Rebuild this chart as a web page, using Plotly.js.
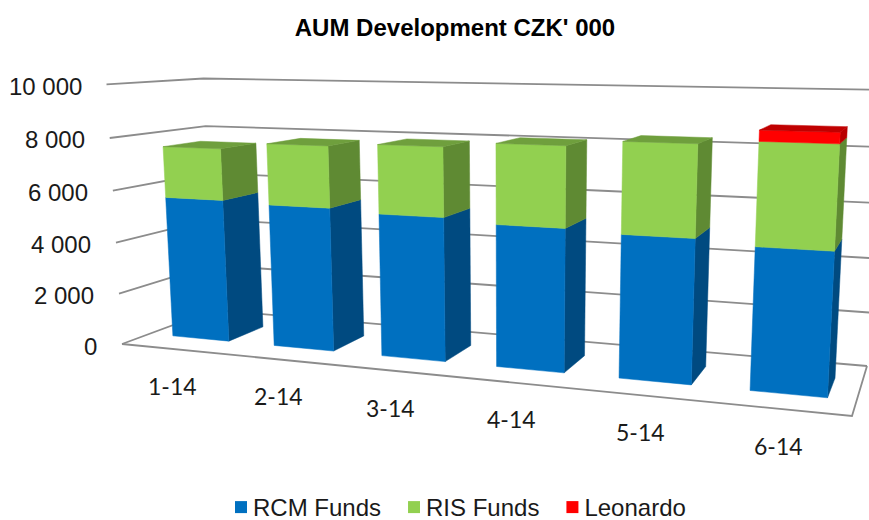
<!DOCTYPE html>
<html>
<head>
<meta charset="utf-8">
<script src="https://cdn.plot.ly/plotly-3.0.1.min.js"></script>
<style>html,body{margin:0;padding:0;background:#fff}</style>
</head>
<body>
<div id="chart" style="width:869px;height:520px"></div>
<script>
var categories = ['1-14','2-14','3-14','4-14','5-14','6-14'];
var rcmFunds = [5570,5490,5370,5220,5120,4960];
var risFunds = [1985,2320,2555,2890,3200,3500];
var leonardo = [0,0,0,0,0,370];
var valueTicks = [0,2000,4000,6000,8000,10000];
var tickLabels = ['0','2 000','4 000','6 000','8 000','10 000'];

var colors = {
  rcm: {front:'#0070C0', side:'#004A80', top:'#005A9A'},
  ris: {front:'#92D050', side:'#5F8A33', top:'#6F9F3D'},
  leo: {front:'#FF0000', side:'#B80000', top:'#C00000'}
};
var gridColor = '#8C8C8C';

// box corners of the chart's 3D scene as seen in the picture
var corner = {A:[122,344], B:[214,310], C:[867,366], D:[852,416], E:[108,85], F:[202,77], G:[882,91]};
var inset = 0.22, xShift = 0.015, depthFront = 0.28, depthBack = 0.68, vMax = 10000, nCat = categories.length;

function solve(M, b){
  var n=b.length, a=M.map(function(r,i){return r.concat([b[i]]);});
  for(var i=0;i<n;i++){
    var p=i; for(var k=i+1;k<n;k++) if(Math.abs(a[k][i])>Math.abs(a[p][i])) p=k;
    var t=a[i];a[i]=a[p];a[p]=t;
    for(var k=0;k<n;k++){ if(k===i) continue; var f=a[k][i]/a[i][i];
      for(var j=i;j<=n;j++) a[k][j]-=f*a[i][j]; }
  }
  return a.map(function(r,i){return r[n]/r[i];});
}
// floor homography
var H = (function(){
  var src=[[0,0,corner.A],[0,1,corner.B],[1,1,corner.C],[1,0,corner.D]], M=[], b=[];
  src.forEach(function(s){var u=s[0],d=s[1],X=s[2][0],Y=s[2][1];
    M.push([u,d,1,0,0,0,-u*X,-d*X]); b.push(X);
    M.push([0,0,0,u,d,1,-u*Y,-d*Y]); b.push(Y);});
  return solve(M,b);
})();
function floorH(u,d){return [H[0]*u+H[1]*d+H[2], H[3]*u+H[4]*d+H[5], H[6]*u+H[7]*d+1];}
// vertical column, least squares on the three upper corners
var V = (function(){
  var pts=[[0,0,corner.E],[0,1,corner.F],[1,1,corner.G]], R=[], r=[];
  pts.forEach(function(p){var f=floorH(p[0],p[1]),X=p[2][0],Y=p[2][1];
    R.push([1,0,-X]); r.push(X*f[2]-f[0]);
    R.push([0,1,-Y]); r.push(Y*f[2]-f[1]);});
  var N=[[0,0,0],[0,0,0],[0,0,0]], q=[0,0,0];
  R.forEach(function(row,i){for(var a=0;a<3;a++){q[a]+=row[a]*r[i];for(var c=0;c<3;c++)N[a][c]+=row[a]*row[c];}});
  return solve(N,q);
})();
function project(xCat,d,v){
  var f=floorH(xCat/nCat,d), t=v/vMax, w=f[2]+t*V[2];
  return [(f[0]+t*V[0])/w,(f[1]+t*V[1])/w];
}

var traces=[];
function line(pts){
  traces.push({type:'scatter',mode:'lines',x:pts.map(function(p){return p[0];}),y:pts.map(function(p){return p[1];}),
    line:{color:gridColor,width:1.8},hoverinfo:'skip',showlegend:false});
}
function poly(pts,color,name){
  traces.push({type:'scatter',mode:'lines',fill:'toself',fillcolor:color,
    x:pts.map(function(p){return p[0];}).concat([pts[0][0]]),
    y:pts.map(function(p){return p[1];}).concat([pts[0][1]]),
    line:{color:color,width:0.5},hoverinfo:'skip',showlegend:false,name:name});
}
// walls and floor
valueTicks.forEach(function(v){
  line([project(0,0,v),project(0,1,v),project(nCat,1,v)]);
});
line([project(0,0,0),project(nCat,0,0),project(nCat,1,0)]);

// bars
categories.forEach(function(c,i){
  var x0=i+inset+xShift,x1=i+1-inset+xShift,d0=depthFront,d1=depthBack;
  var segs=[[0,rcmFunds[i],colors.rcm,'RCM Funds'],
            [rcmFunds[i],rcmFunds[i]+risFunds[i],colors.ris,'RIS Funds'],
            [rcmFunds[i]+risFunds[i],rcmFunds[i]+risFunds[i]+leonardo[i],colors.leo,'Leonardo']];
  segs.forEach(function(s,k){
    if(s[1]<=s[0]) return;
    var lo=s[0],hi=s[1],col=s[2];
    poly([project(x1,d0,lo),project(x1,d1,lo),project(x1,d1,hi),project(x1,d0,hi)],col.side,s[3]);
    poly([project(x0,d0,lo),project(x1,d0,lo),project(x1,d0,hi),project(x0,d0,hi)],col.front,s[3]);
    var isTop = k===2 ? true : (segs[k+1][1]<=segs[k+1][0] && (k===1 ? leonardo[i]<=0 : false));
    if(isTop) poly([project(x0,d0,hi),project(x1,d0,hi),project(x1,d1,hi),project(x0,d1,hi)],col.top,s[3]);
  });
});

// legend entries
[['RCM Funds',colors.rcm.front],['RIS Funds',colors.ris.front],['Leonardo',colors.leo.front]].forEach(function(l){
  traces.push({type:'bar',x:[-500],y:[1],name:l[0],marker:{color:l[1]},hoverinfo:'skip',showlegend:true});
});

// text
var ann=[];
valueTicks.forEach(function(v,i){
  var p=project(0,0,v);
  ann.push({x:p[0]-23,y:p[1]+2,xref:'x',yref:'y',text:tickLabels[i],showarrow:false,xanchor:'right',yanchor:'middle',
    font:{family:'Liberation Sans, Arial, sans-serif',size:24,color:'#1a1a1a'}});
});
categories.forEach(function(c,i){
  var p=project(i+0.5,0,0);
  ann.push({x:p[0],y:p[1]+37,xref:'x',yref:'y',text:c,showarrow:false,xanchor:'center',yanchor:'middle',
    font:{family:'Lato, Carlito, sans-serif',size:23,color:'#1a1a1a'}});
});

var layout={
  width:869,height:520,margin:{l:0,r:0,t:0,b:0,autoexpand:false},
  paper_bgcolor:'#fff',plot_bgcolor:'#fff',
  title:{text:"<b>AUM Development CZK' 000</b>",x:455/869,xanchor:'center',y:1-28/520,yanchor:'middle',
    font:{family:'Liberation Sans, Arial, sans-serif',size:24,color:'#000'}},
  xaxis:{range:[0,869],visible:false,fixedrange:true},
  yaxis:{range:[520,0],visible:false,fixedrange:true},
  showlegend:true,
  legend:{orientation:'h',x:213/869,xanchor:'left',y:1-507.5/520,yanchor:'middle',traceorder:'normal',
    font:{family:'Liberation Sans, Arial, sans-serif',size:24,color:'#1a1a1a'},bgcolor:'rgba(0,0,0,0)'},
  annotations:ann
};
Plotly.newPlot('chart',traces,layout,{displayModeBar:false,staticPlot:true}).then(function(){
  // swatches sit closer to their labels in the reference
  document.querySelectorAll('#chart .legend .legendpoints').forEach(function(g){
    g.setAttribute('transform','translate(8,0)');
  });
});
</script>
</body>
</html>
